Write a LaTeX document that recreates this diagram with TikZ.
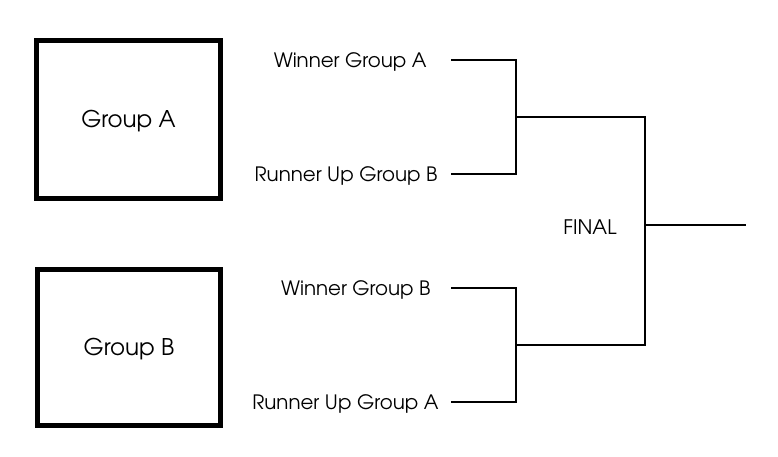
\documentclass[tikz,border=0pt]{standalone}
\usepackage{fontspec}
\setmainfont{TeX Gyre Adventor}
\usepackage{tikz}

\begin{document}
\begin{tikzpicture}[x=1pt, y=-1pt,
        groupbox/.style={draw, rectangle, line width=5pt, text depth=0pt, font=\fontsize{23}{26}\selectfont},
        team/.style={anchor=east, font=\fontsize{19.8}{22}\selectfont},
        bracket/.style={line width=2pt}]
        \useasboundingbox (0,0) rectangle (778,457);

        % Group boxes
        \node[groupbox, minimum width=184pt, minimum height=157.5pt] (groupA) at (128.5,119.25) {Group A};
        \node[groupbox, minimum width=183pt, minimum height=156.5pt] (groupB) at (129,347.25) {Group B};

        % Team labels
        \node[team] (winA) at (430,61.5) {Winner Group A};
        \node[team] (runB) at (441,175.5) {Runner Up Group B};
        \node[team] (winB) at (434,289.5) {Winner Group B};
        \node[team] (runA) at (442,403.5) {Runner Up Group A};
        \node (final) at (590,227.5) {\fontsize{20}{22}\selectfont FINAL};

        % Bracket corners
        \coordinate (winAend) at (451,60);
        \coordinate (runBend) at (451,174);
        \coordinate (winBend) at (451,288);
        \coordinate (runAend) at (451,402);
        \coordinate (semiA) at (516,117);
        \coordinate (semiB) at (516,345);
        \coordinate (champ) at (746,225);

        % Upper bracket
        \draw[bracket] (winAend) -| (semiA) |- (runBend);
        % Lower bracket
        \draw[bracket] (winBend) -| (semiB) |- (runAend);
        % Final bracket
        \draw[bracket] (semiA) -| (645,225) |- (semiB);
        \draw[bracket] (645,225) -- (champ);
    \end{tikzpicture}
\end{document}
